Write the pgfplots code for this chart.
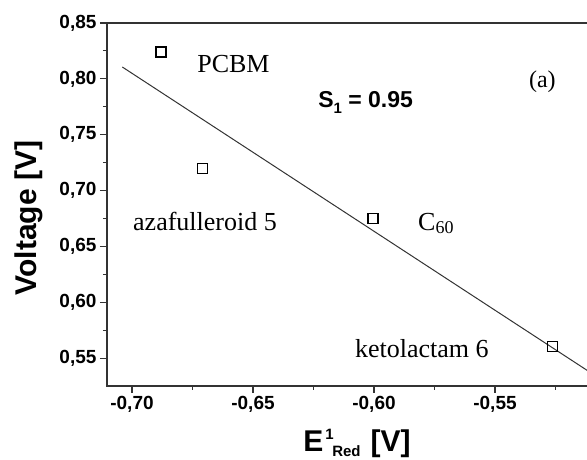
\documentclass[border=0pt]{standalone}
\usepackage{pgfplots}
\pgfplotsset{compat=1.18}
\usepackage{fontspec}
\setmainfont{Liberation Sans}
\newfontfamily\seriffont{Liberation Serif}
\usetikzlibrary{calc}
\begin{document}
\begin{tikzpicture}
\begin{axis}[name=ax,
  scale only axis, width=509pt, height=363pt,
  xmin=-0.71033, xmax=-0.50, ymin=0.525, ymax=0.85,
  xtick={-0.70,-0.65,-0.60,-0.55},
  minor xtick={-0.675,-0.625,-0.575,-0.525},
  ytick={0.55,0.60,0.65,0.70,0.75,0.80,0.85},
  minor ytick={0.575,0.625,0.675,0.725,0.775,0.825},
  tick align=outside, xtick pos=left, ytick pos=left,
  major tick length=7pt, minor tick length=4pt,
  axis line style={line width=1.4pt, black!80},
  every tick/.style={line width=1.1pt, black!80},
  /pgf/number format/use comma,
  /pgf/number format/fixed,
  /pgf/number format/fixed zerofill,
  /pgf/number format/precision=2,
  /pgf/number format/assume math mode=true,
  tick label style={font=\bfseries\fontsize{19}{19}\selectfont},
  clip mode=individual,
]
\addplot[black!80, line width=1pt, no marks] coordinates {(-0.704,0.8106) (-0.505,0.5292)};
\addplot[only marks, mark=square, mark size=5pt, mark options={line width=1.1pt, black}]
  coordinates {(-0.688,0.824) (-0.671,0.720) (-0.6004,0.675) (-0.5264,0.560)};
\node[anchor=base west, inner sep=0, font=\seriffont\fontsize{26}{26}\selectfont] at (axis cs:-0.6731,0.8061) {PCBM};
\node[anchor=base west, inner sep=0, font=\seriffont\fontsize{26}{26}\selectfont] at (axis cs:-0.6996,0.6646) {azafulleroid 5};
\node[anchor=base west, inner sep=0, font=\seriffont\fontsize{26}{26}\selectfont] at (axis cs:-0.5818,0.6646) {C\raisebox{-3pt}{\fontsize{18}{18}\selectfont 60}};
\node[anchor=base west, inner sep=0, font=\seriffont\fontsize{26}{26}\selectfont] at (axis cs:-0.6079,0.5509) {ketolactam 6};
\node[anchor=base west, inner sep=0, font=\seriffont\fontsize{24}{24}\selectfont] at (axis cs:-0.536,0.7918) {(a)};
\node[anchor=base west, inner sep=0, font=\bfseries\fontsize{23}{23}\selectfont] at (axis cs:-0.6231,0.7739) {S\raisebox{-6pt}{\fontsize{15}{15}\selectfont 1} = 0.95};
\node[anchor=base, rotate=90, inner sep=0, font=\bfseries\fontsize{30}{30}\selectfont] at (axis cs:-0.73926,0.6754) {Voltage [V]};
\node[anchor=base west, inner sep=0, font=\bfseries\fontsize{30}{30}\selectfont] at (axis cs:-0.6293,0.4667) {E\hspace{2pt}\rlap{\raisebox{12pt}{\fontsize{15}{15}\selectfont 1}}\hspace{7pt}\raisebox{-5pt}{\fontsize{15}{15}\selectfont Red}\hspace{10pt}[V]};
\end{axis}
\pgfresetboundingbox
\path[use as bounding box] ($(ax.south west)+(-107pt,-74pt)$) rectangle ($(ax.south west)+(480pt,386pt)$);
\end{tikzpicture}
\end{document}
